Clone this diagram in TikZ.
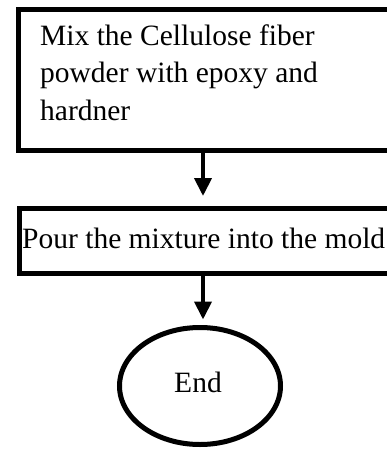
\documentclass[tikz,border=0pt]{standalone}
\usepackage{fontspec}
\setmainfont{Liberation Serif}
\usetikzlibrary{shapes.geometric,arrows.meta}
\begin{document}
\begin{tikzpicture}[x=1pt,y=-1pt,
  box/.style={draw,line width=5pt,rectangle,inner sep=0pt,anchor=north west},
  txt/.style={font=\fontsize{29.5}{37.5}\selectfont,inner sep=0pt},
  arr/.style={line width=4pt,-{Triangle[length=18pt,width=17pt]}}]
\useasboundingbox (0,0) rectangle (387,450);
\clip (0,0) rectangle (387,450);
\node[box,minimum width=400pt,minimum height=141pt] (b1) at (15.5,6.5) {};
\node[txt,anchor=base west] (t1) at (40,45) {\parbox[t]{340pt}{\raggedright Mix the Cellulose fiber\\ powder with epoxy and\\ hardner}};
\node[box,minimum width=400pt,minimum height=65pt] (b2) at (16.5,205.5) {};
\node[txt,anchor=base west] (t2) at (22,248) {Pour the mixture into the mold};
\node[draw,ellipse,line width=5pt,minimum width=161pt,minimum height=117pt,inner sep=0pt] (e) at (200,386) {};
\node[txt,anchor=base] (t3) at (198,392) {End};
\draw[arr,shorten >=9.5pt] ([xshift=187.5pt]b1.south west) -- ([xshift=186.5pt]b2.north west);
\draw[arr,shorten >=5.5pt] ([xshift=186.5pt]b2.south west) -- ([xshift=3pt]e.north);
\end{tikzpicture}
\end{document}
